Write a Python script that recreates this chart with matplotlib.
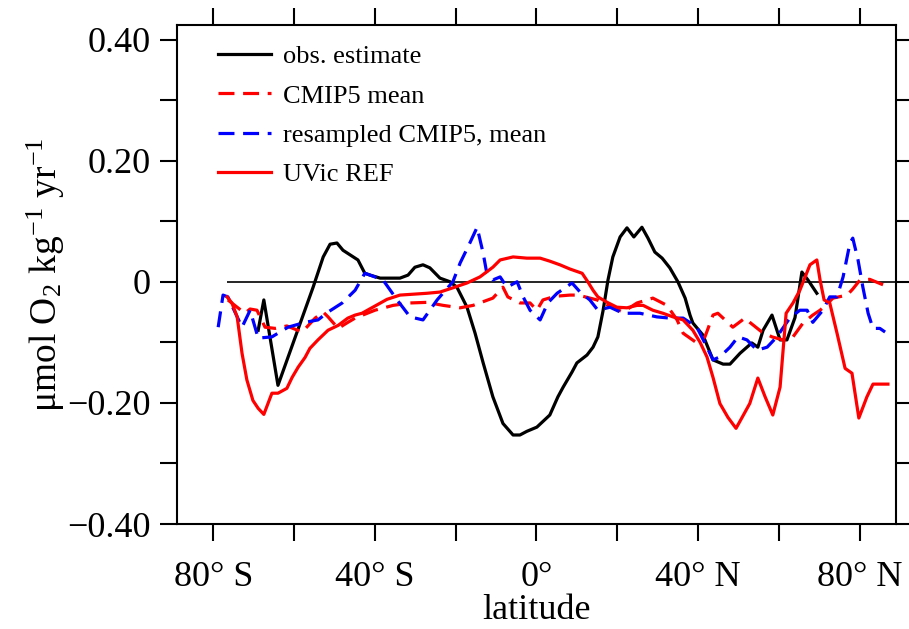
import matplotlib
matplotlib.use("Agg")
import matplotlib.pyplot as plt

plt.rcParams['font.family'] = ['Liberation Serif', 'DejaVu Serif']
plt.rcParams['mathtext.fontset'] = 'custom'
plt.rcParams['mathtext.rm'] = 'Liberation Serif'
plt.rcParams['mathtext.it'] = 'Liberation Serif:italic'

# obs. estimate
obs_lat = [-68.9, -67.5, -64.0, -55.3, -52.8, -51.1, -49.4, -47.9, -44.2, -42.5,
           -41.2, -38.7, -33.8, -31.8, -30.1, -28.1, -26.4, -23.9, -21.4, -19.7,
           -17.2, -15.2, -13.2, -10.8, -8.3, -5.8, -4.1, -2.4, 0.1, 3.3,
           5.3, 6.6, 8.8, 10.0, 12.5, 14.0, 15.2, 16.5, 17.7, 18.9,
           20.7, 22.4, 24.1, 26.1, 27.6, 29.3, 31.1, 33.0, 35.0, 36.8,
           38.0, 38.7, 41.2, 43.7, 46.2, 47.9, 50.4, 53.3, 54.8, 56.1,
           58.3, 60.3, 62.0, 64.0, 65.7, 67.2, 69.4]
obs_val = [-0.080, -0.030, -0.171, -0.009, 0.041, 0.062, 0.064, 0.052, 0.036, 0.014,
           0.011, 0.006, 0.006, 0.011, 0.024, 0.028, 0.023, 0.006, 0.000, -0.009,
           -0.042, -0.085, -0.134, -0.190, -0.234, -0.253, -0.253, -0.247, -0.240, -0.220,
           -0.190, -0.174, -0.149, -0.134, -0.121, -0.108, -0.091, -0.047, 0.003, 0.041,
           0.074, 0.089, 0.074, 0.090, 0.072, 0.049, 0.039, 0.023, 0.000, -0.027,
           -0.055, -0.068, -0.088, -0.129, -0.136, -0.136, -0.118, -0.101, -0.108, -0.080,
           -0.055, -0.096, -0.096, -0.059, 0.016, 0.003, -0.019]

# CMIP5 mean
cmip_lat = [-76.4, -72.2, -70.9, -69.2, -67.2, -64.7, -61.8, -58.0, -54.8, -52.8,
            -51.6, -49.1, -46.7, -44.9, -40.0, -35.5, -31.3, -27.1, -23.1, -18.9,
            -15.7, -10.8, -9.0, -8.3, -7.1, -4.1, -1.6, 0.1, 1.6, 4.6,
            8.3, 10.3, 15.0, 18.7, 21.4, 24.9, 28.8, 32.3, 34.8, 36.3,
            39.7, 41.7, 43.7, 44.9, 46.2, 48.6, 51.6, 52.8, 55.8, 58.3,
            61.0, 63.5, 66.0, 68.4, 70.2, 71.4, 73.4, 76.9, 78.3, 80.1,
            82.5, 85.8]
cmip_val = [-0.030, -0.052, -0.045, -0.047, -0.075, -0.077, -0.073, -0.083, -0.060, -0.050,
            -0.058, -0.077, -0.067, -0.060, -0.047, -0.039, -0.035, -0.034, -0.039, -0.043,
            -0.039, -0.027, -0.014, -0.009, -0.025, -0.035, -0.035, -0.047, -0.030, -0.024,
            -0.022, -0.022, -0.030, -0.042, -0.050, -0.035, -0.027, -0.039, -0.063, -0.085,
            -0.101, -0.091, -0.055, -0.052, -0.060, -0.075, -0.060, -0.067, -0.083, -0.091,
            -0.096, -0.091, -0.068, -0.055, -0.047, -0.040, -0.027, -0.022, -0.012, 0.003,
            0.004, -0.005]

# resampled CMIP5, mean
res_lat = [-78.8, -77.6, -76.4, -72.9, -70.9, -68.9, -65.5, -61.5, -57.3, -54.1,
           -51.6, -48.1, -44.9, -42.5, -41.2, -38.0, -34.5, -31.3, -28.1, -24.6,
           -20.7, -18.9, -16.5, -14.7, -13.2, -12.3, -10.8, -9.0, -7.3, -4.8,
           -3.3, -1.6, 0.1, 0.9, 2.8, 5.1, 8.8, 10.8, 13.2, 15.2,
           18.2, 21.4, 25.6, 29.8, 33.0, 36.3, 39.7, 42.2, 43.7, 45.4,
           47.9, 49.9, 52.1, 54.6, 57.1, 59.5, 62.7, 65.2, 67.0, 68.4,
           70.9, 72.6, 74.4, 75.9, 77.6, 78.3, 79.6, 80.8, 82.1, 83.3,
           85.0, 86.3]
res_val = [-0.075, -0.022, -0.025, -0.075, -0.047, -0.093, -0.091, -0.075, -0.067, -0.063,
           -0.050, -0.035, -0.014, 0.014, 0.011, 0.003, -0.030, -0.058, -0.063, -0.030,
           0.000, 0.031, 0.064, 0.090, 0.047, 0.014, 0.003, 0.008, -0.009, 0.000,
           -0.025, -0.047, -0.058, -0.063, -0.035, -0.019, -0.002, -0.017, -0.030, -0.047,
           -0.042, -0.052, -0.052, -0.058, -0.060, -0.060, -0.075, -0.108, -0.129, -0.124,
           -0.108, -0.091, -0.096, -0.113, -0.108, -0.091, -0.060, -0.047, -0.047, -0.067,
           -0.047, -0.025, -0.025, 0.008, 0.064, 0.072, 0.036, -0.009, -0.052, -0.077,
           -0.077, -0.083]

# UVic REF
uvic_lat = [-76.6, -75.4, -74.1, -72.9, -71.7, -70.2, -68.9, -67.5, -65.5, -64.0,
            -61.8, -60.5, -59.0, -57.3, -56.1, -54.1, -51.6, -49.1, -46.7, -44.9,
            -43.2, -40.5, -37.0, -33.8, -27.1, -23.9, -20.7, -17.2, -14.0, -10.8,
            -9.0, -5.8, -2.4, 0.9, 3.3, 5.8, 8.3, 11.3, 12.7, 14.0,
            15.2, 17.5, 19.9, 22.4, 24.9, 26.4, 28.8, 31.3, 33.8, 36.3,
            38.7, 40.5, 42.2, 43.7, 45.4, 47.4, 49.4, 50.9, 52.8, 54.8,
            56.6, 58.5, 60.3, 61.8, 63.5, 65.2, 67.7, 69.4, 70.2, 71.2,
            72.6, 74.4, 76.4, 78.1, 79.8, 81.8, 83.3, 87.0]
uvic_val = [-0.025, -0.035, -0.058, -0.118, -0.162, -0.196, -0.209, -0.219, -0.184, -0.184,
            -0.176, -0.158, -0.141, -0.125, -0.110, -0.096, -0.080, -0.072, -0.060, -0.055,
            -0.052, -0.042, -0.029, -0.022, -0.019, -0.017, -0.010, -0.002, 0.008, 0.024,
            0.036, 0.041, 0.039, 0.039, 0.034, 0.028, 0.021, 0.014, 0.000, -0.014,
            -0.025, -0.034, -0.042, -0.043, -0.039, -0.039, -0.047, -0.052, -0.058, -0.063,
            -0.080, -0.100, -0.124, -0.158, -0.201, -0.224, -0.242, -0.224, -0.201, -0.159,
            -0.190, -0.220, -0.174, -0.052, -0.035, -0.014, 0.028, 0.036, 0.003, -0.030,
            -0.035, -0.085, -0.143, -0.151, -0.225, -0.190, -0.169, -0.169]

xtick_pos = [-80, -40, 0, 40, 80]
xtick_labels = ['80° S', '40° S', '0°', '40° N', '80° N']
ytick_pos = [-0.4, -0.2, 0.0, 0.2, 0.4]
ytick_labels = ['\u22120.40', '\u22120.20', '0', '0.20', '0.40']

fig = plt.figure(figsize=(9.09, 6.29), dpi=100)
ax = fig.add_axes([0.1947, 0.1669, 0.7910, 0.7934])

ax.hlines(0, -76.5, 89, color='black', lw=1.2, zorder=1)
ax.plot(obs_lat, obs_val, color='black', lw=2.3, label='obs. estimate')
ax.plot(cmip_lat, cmip_val, color='#ff0000', lw=2.3, dashes=(5, 2.7), label='CMIP5 mean')
ax.plot(res_lat, res_val, color='#0000ff', lw=2.3, dashes=(5, 2.7), label='resampled CMIP5, mean')
ax.plot(uvic_lat, uvic_val, color='#ff0000', lw=2.3, label='UVic REF')

ax.set_xlim(-89, 89)
ax.set_ylim(-0.4, 0.424)
ax.set_xticks(xtick_pos)
ax.set_xticklabels(xtick_labels)
ax.set_xticks(range(-80, 81, 20), minor=True)
ax.set_yticks(ytick_pos)
ax.set_yticklabels(ytick_labels)
ax.set_yticks([-0.4, -0.3, -0.2, -0.1, 0.0, 0.1, 0.2, 0.3, 0.4], minor=True)

for side in ['top', 'right', 'bottom', 'left']:
    ax.spines[side].set_linewidth(1.5)
ax.tick_params(which='both', direction='out', length=12, width=1.5,
               top=True, right=True, labelsize=26)
ax.tick_params(axis='y', pad=7)
ax.tick_params(axis='x', pad=14.5)

ax.set_xlabel('latitude', fontsize=26, labelpad=0)
ax.set_ylabel('μmol O$_2$ kg$^{-1}$ yr$^{-1}$', fontsize=27, labelpad=0)

ax.legend(loc='upper left', bbox_to_anchor=(0.057, 0.960), frameon=False,
          fontsize=19, borderpad=0, borderaxespad=0, handlelength=2.0,
          handletextpad=0.46, labelspacing=0.6)

fig.savefig('out.png', dpi=100)
